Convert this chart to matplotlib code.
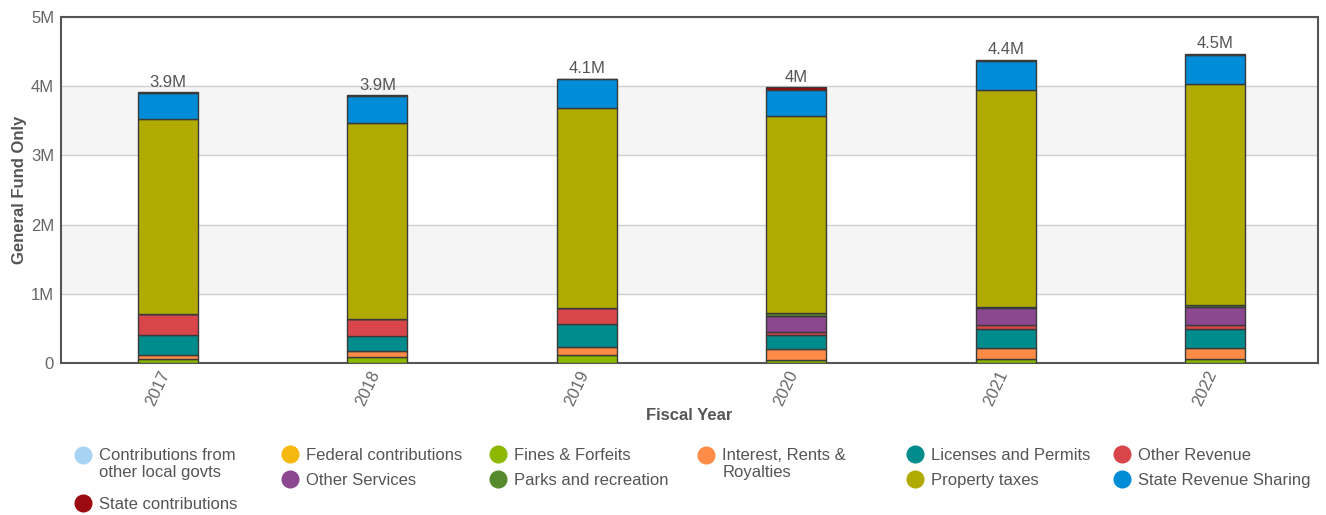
import numpy as np
import matplotlib.pyplot as plt
from matplotlib.lines import Line2D
from matplotlib.ticker import FuncFormatter

plt.rcParams['font.family'] = ['Liberation Sans', 'DejaVu Sans']

# Fiscal years
years = ['2017', '2018', '2019', '2020', '2021', '2022']

# revenue by source, million $ (general fund only), bottom -> top of stack
local_govts = [0, 0, 0, 0, 0, 0]
federal = [0, 0, 0, 0, 0, 0]
fines = [0.062, 0.087, 0.111, 0.043, 0.053, 0.053]
interest = [0.058, 0.082, 0.120, 0.155, 0.159, 0.159]
licenses = [0.285, 0.217, 0.328, 0.202, 0.279, 0.279]
other_revenue = [0.298, 0.254, 0.231, 0.044, 0.053, 0.053]
other_services = [0, 0, 0, 0.235, 0.246, 0.269]
parks = [0, 0, 0, 0.039, 0.023, 0.025]
property_taxes = [2.816, 2.822, 2.900, 2.850, 3.127, 3.198]
state_sharing = [0.386, 0.400, 0.410, 0.375, 0.420, 0.410]
state_contrib = [0.005, 0.005, 0.005, 0.040, 0.020, 0.020]

series = [
    ('Contributions from\nother local govts', local_govts, '#a8d4f4'),
    ('Federal contributions', federal, '#f5b80f'),
    ('Fines & Forfeits', fines, '#8cb800'),
    ('Interest, Rents &\nRoyalties', interest, '#fe8c46'),
    ('Licenses and Permits', licenses, '#008c8c'),
    ('Other Revenue', other_revenue, '#d8464b'),
    ('Other Services', other_services, '#8b4790'),
    ('Parks and recreation', parks, '#568a2c'),
    ('Property taxes', property_taxes, '#b1aa00'),
    ('State Revenue Sharing', state_sharing, '#008cd6'),
    ('State contributions', state_contrib, '#9b0a10'),
]

fig = plt.figure(figsize=(13.26, 5.15), dpi=100)
ax = fig.add_axes([61 / 1326, 1 - 363 / 515, 1257 / 1326, 346 / 515])

x = np.arange(len(years))
bottom = np.zeros(len(years))
handles = {}
for name, vals, col in series:
    vals = np.array(vals)
    ax.bar(x + 0.01, vals, 0.286, bottom=bottom, color=col, edgecolor='#3a3a3a',
           linewidth=1.0, zorder=3)
    bottom += vals
    handles[name] = Line2D([], [], marker='o', linestyle='none', markersize=12,
                           markerfacecolor=col, markeredgecolor=col)

# totals on top
for i, t in enumerate(bottom):
    ax.annotate(f'{round(t, 1):g}M', (i + 0.01, t), xytext=(0, 2), textcoords='offset points',
                ha='center', va='bottom', fontsize=12, color='#555555')

# alternating bands + grid
for lo in (1, 3):
    ax.axhspan(lo, lo + 1, color='#f5f5f5', zorder=0, lw=0)
ax.set_ylim(0, 5)
ax.set_xlim(-0.5, len(years) - 0.5)
ax.set_yticks(range(6))
ax.yaxis.set_major_formatter(FuncFormatter(lambda v, p: '0' if v == 0 else f'{v:g}M'))
ax.grid(axis='y', color='#d0d0d0', linewidth=1, zorder=1)
ax.set_axisbelow(True)

ax.set_xticks(x)
ax.set_xticklabels(years, rotation=65, ha='right', va='center', rotation_mode='anchor')
ax.tick_params(axis='both', length=0, labelsize=12, labelcolor='#666666')
ax.tick_params(axis='x', pad=6)
ax.tick_params(axis='y', pad=5)
for s in ax.spines.values():
    s.set_color('#555555')
    s.set_linewidth(1.5)

ax.set_xlabel('Fiscal Year', fontsize=12, fontweight='bold', color='#555555', labelpad=0)
ax.set_ylabel('General Fund Only', fontsize=12, fontweight='bold', color='#555555', labelpad=3)

# legend, one block per column
names = [s[0] for s in series]
columns = [
    [names[0], names[10]],
    [names[1], names[6]],
    [names[2], names[7]],
    [names[3]],
    [names[4], names[8]],
    [names[5], names[9]],
]
col_left = [75, 282, 490, 698, 907, 1114]
for labels, xl in zip(columns, col_left):
    spacing = 1.0 if '\n' in labels[0] else 0.6
    leg = fig.legend([handles[n] for n in labels], labels, loc='upper left',
                     bbox_to_anchor=(xl / 1326, 1 - 448 / 515), frameon=False,
                     borderpad=0, borderaxespad=0, handlelength=1.0, handletextpad=0.45,
                     labelspacing=spacing, fontsize=12)
    for txt, h in zip(leg.get_texts(), leg.legend_handles):
        txt.set_color('#555555')
        if '\n' in txt.get_text():
            h.set_ydata(np.array(h.get_ydata()) + 7)

fig.savefig('out.png', dpi=100)
